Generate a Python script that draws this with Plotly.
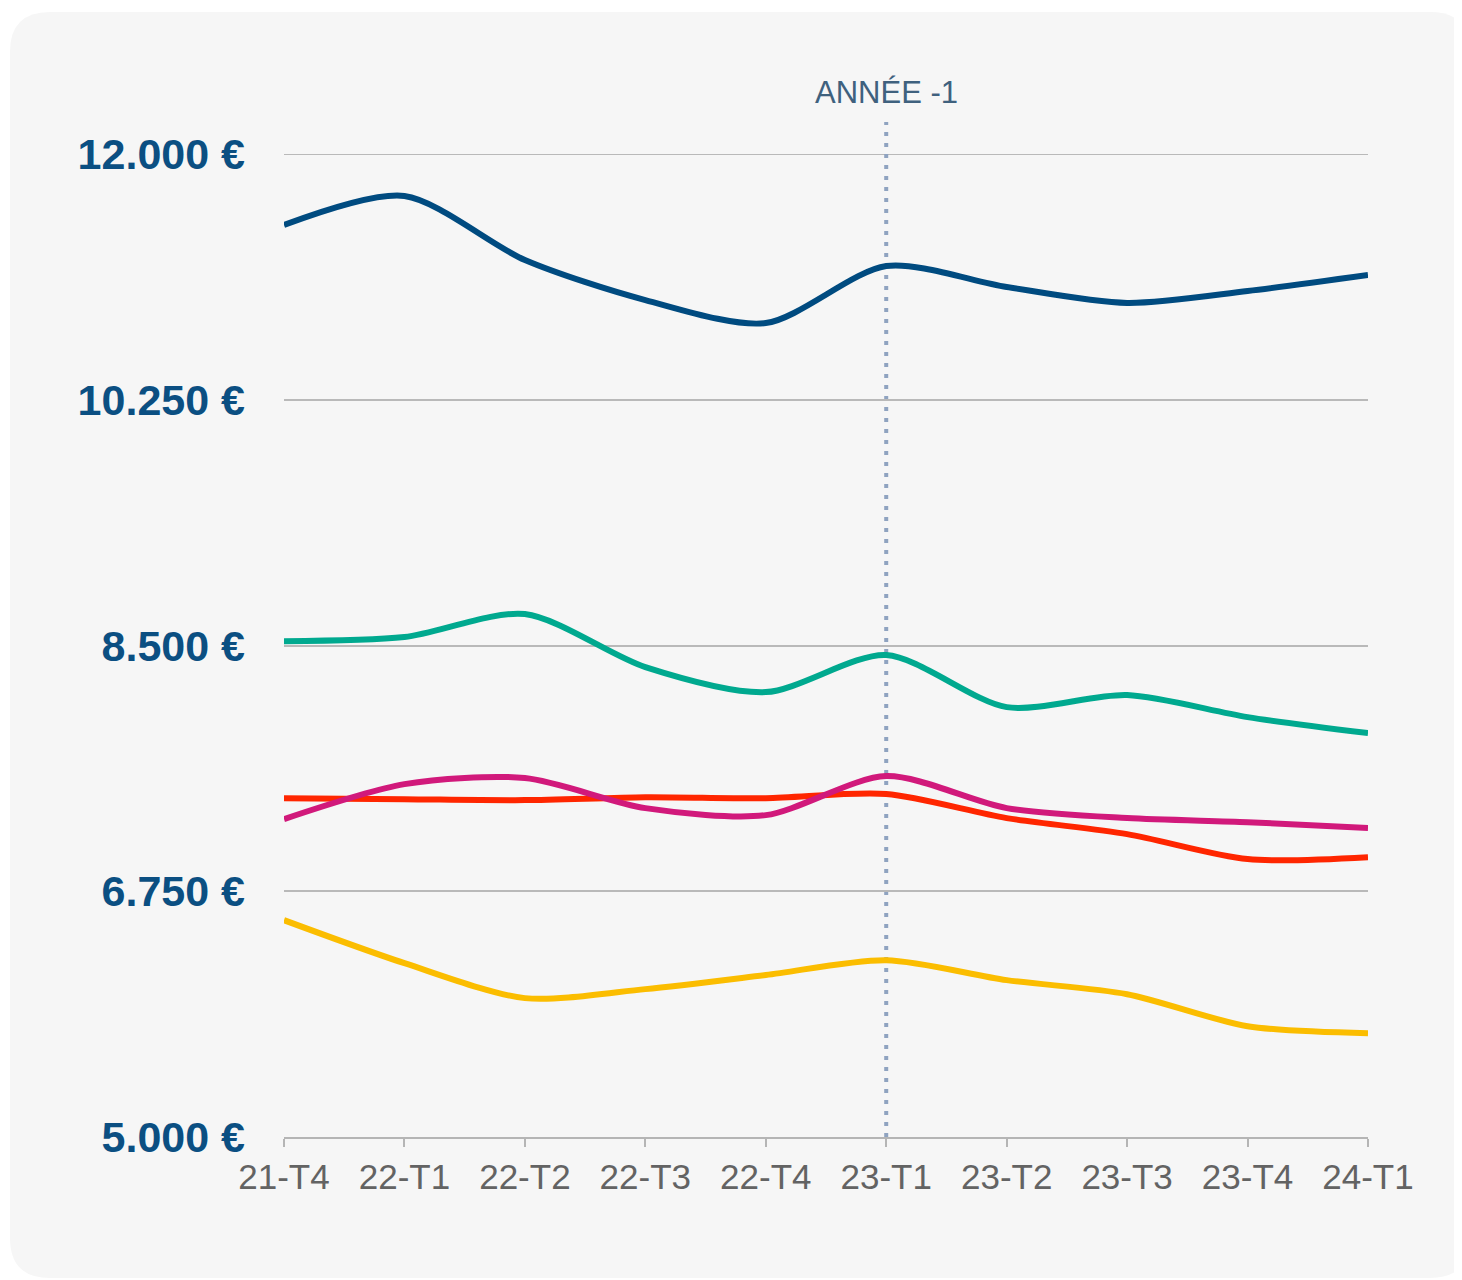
import plotly.graph_objects as go

categories = ["21-T4", "22-T1", "22-T2", "22-T3", "22-T4", "23-T1", "23-T2", "23-T3", "23-T4", "24-T1"]

blue = [11494, 11701, 11245, 10960, 10796, 11202, 11053, 10939, 11024, 11138]
green = [8531, 8560, 8724, 8346, 8168, 8432, 8061, 8147, 7990, 7876]
red = [7413, 7406, 7399, 7420, 7413, 7442, 7271, 7157, 6979, 6993]
pink = [7264, 7513, 7556, 7342, 7292, 7570, 7342, 7271, 7242, 7200]
yellow = [6544, 6238, 5989, 6053, 6153, 6259, 6117, 6017, 5789, 5739]

y_ticks = [5000, 6750, 8500, 10250, 12000]
y_tick_labels = ["5.000 €", "6.750 €", "8.500 €", "10.250 €", "12.000 €"]

marker_category = "23-T1"
marker_label = "ANNÉE -1"

series = [
    (yellow, "#fbbd00"),
    (green, "#00a98f"),
    (red, "#ff2600"),
    (pink, "#d1197b"),
    (blue, "#004b80"),
]

# page has an 8px body margin; work in figure pixel coordinates
OFF = 8
W, H = 1462 - OFF, 1280 - OFF
L, T = 284 - OFF, 154 - OFF
R = W - (1368 - OFF)
B = H - (1137 - OFF)
pw, ph = W - L - R, H - T - B

fig = go.Figure()
for vals, col in series:
    fig.add_trace(go.Scatter(
        x=list(range(len(categories))), y=vals, mode="lines",
        line=dict(color=col, width=6, shape="spline", smoothing=0.8),
        showlegend=False, hoverinfo="skip",
    ))


def px(x):
    return (x - OFF - L) / pw


def py(y):
    return (H - B - (y - OFF)) / ph


cx0, cx1, cy0, cy1, r = 10, 1470, 12, 1278, 40
path = (
    f"M {px(cx0 + r)} {py(cy0)} L {px(cx1 - r)} {py(cy0)} "
    f"Q {px(cx1)} {py(cy0)} {px(cx1)} {py(cy0 + r)} "
    f"L {px(cx1)} {py(cy1 - r)} Q {px(cx1)} {py(cy1)} {px(cx1 - r)} {py(cy1)} "
    f"L {px(cx0 + r)} {py(cy1)} Q {px(cx0)} {py(cy1)} {px(cx0)} {py(cy1 - r)} "
    f"L {px(cx0)} {py(cy0 + r)} Q {px(cx0)} {py(cy0)} {px(cx0 + r)} {py(cy0)} Z"
)
fig.add_shape(type="path", path=path, xref="paper", yref="paper",
              fillcolor="#f6f6f6", line=dict(width=0), layer="below")

# top gridline (plotly drops the gridline at the range edge)
fig.add_shape(type="line", xref="paper", yref="y", x0=0, x1=1, y0=y_ticks[-1], y1=y_ticks[-1],
              line=dict(color="#b9b9b9", width=2), layer="below")

mi = categories.index(marker_category)
fig.add_shape(type="line", xref="x", yref="paper", x0=mi, x1=mi, y0=0, y1=py(122),
              line=dict(color="#8fa3c0", width=4, dash="4px,7px"), layer="below")
fig.add_annotation(x=mi, xref="x", y=py(93), yref="paper", text=marker_label,
                   showarrow=False, yanchor="middle",
                   font=dict(family="Liberation Sans", size=31, color="#3f617e"))

fig.update_layout(
    width=W, height=H,
    margin=dict(l=L, r=R, t=T, b=B),
    paper_bgcolor="white", plot_bgcolor="rgba(0,0,0,0)",
    xaxis=dict(
        range=[0, len(categories) - 1], tickmode="array",
        tickvals=list(range(len(categories))), ticktext=categories,
        showgrid=False, zeroline=False,
        showline=True, linecolor="#b5b5b5", linewidth=2,
        ticks="outside", ticklen=8, tickwidth=2, tickcolor="#b5b5b5",
        tickfont=dict(family="Liberation Sans", size=35, color="#636363"),
    ),
    yaxis=dict(
        range=[5000, 12000], tickmode="array", tickvals=y_ticks, ticktext=y_tick_labels,
        showgrid=True, gridcolor="#b9b9b9", gridwidth=2, zeroline=False,
        showline=False, ticks="", ticklabelstandoff=38,
        tickfont=dict(family="Liberation Sans", size=43, color="#0b4f82", weight="bold"),
    ),
)

fig.write_html("out.html")
